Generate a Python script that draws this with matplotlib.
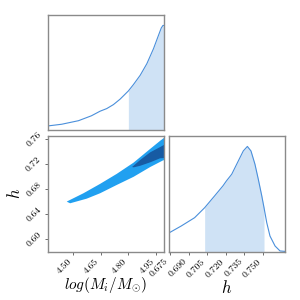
import numpy as np
import matplotlib
matplotlib.use('Agg')
import matplotlib.pyplot as plt

plt.rcParams['font.family'] = 'serif'
plt.rcParams['font.serif'] = ['cmr10']
plt.rcParams['mathtext.fontset'] = 'cm'
plt.rcParams['axes.formatter.use_mathtext'] = True

# 1D marginal of log(M_i/M_sun), peak normalised to 1
m_x = [4.365, 4.439, 4.530, 4.600, 4.647, 4.683, 4.719, 4.755, 4.800, 4.827, 4.864,
       4.900, 4.936, 4.963, 4.978, 4.987, 4.992]
m_p = [0.038, 0.054, 0.088, 0.135, 0.179, 0.204, 0.242, 0.294, 0.373, 0.433, 0.523,
       0.634, 0.778, 0.906, 0.976, 1.0, 1.0]
m_lo = 4.80

# 1D marginal of h
h_x = [0.6742, 0.6841, 0.6949, 0.7030, 0.7110, 0.7177, 0.7205, 0.7248, 0.7301, 0.7341,
       0.7374, 0.7403, 0.7435, 0.7462, 0.7490, 0.7508, 0.7530, 0.7556, 0.7597, 0.7637, 0.7677]
h_p = [0.178, 0.244, 0.323, 0.418, 0.530, 0.625, 0.672, 0.736, 0.862, 0.957,
       1.0, 0.957, 0.831, 0.688, 0.530, 0.418, 0.276, 0.149, 0.054, 0.007, 0.003]
h_lo, h_hi = 0.7030, 0.7508

# 2D contours (outer 95%, inner 68%)
outer_x = [4.467, 4.472, 4.557, 4.647, 4.737, 4.828, 4.918, 4.972, 4.990, 5.00,
           5.00, 4.990, 4.918, 4.828, 4.737, 4.647, 4.575, 4.485]
outer_y = [0.6600, 0.6610, 0.6735, 0.6885, 0.7045, 0.7225, 0.7445, 0.7575, 0.7615, 0.764,
           0.725, 0.7265, 0.7155, 0.6998, 0.6868, 0.6735, 0.6649, 0.6575]
inner_x = [4.820, 4.864, 4.918, 4.972, 5.00, 5.00, 4.972, 4.918, 4.864, 4.830]
inner_y = [0.7155, 0.7268, 0.7390, 0.7475, 0.7520, 0.7300, 0.7295, 0.7230, 0.7175, 0.7150]

line_c = '#4a8fdb'
fill_c = '#cfe2f5'
spine_c = '#8a8a8a'

fig = plt.figure(figsize=(3, 3), dpi=100)
ax1 = fig.add_axes([0.161, 0.567, 0.384, 0.383])
ax2 = fig.add_axes([0.161, 0.161, 0.384, 0.386])
ax3 = fig.add_axes([0.563, 0.161, 0.387, 0.386])

xlim_m = (4.367, 4.99)
ylim_h = (0.580, 0.7653)

# top: marginal of mass
mx, mp = np.array(m_x), np.array(m_p)
ax1.plot(mx, mp, color=line_c, lw=0.8)
ax1.fill_between(mx, 0, mp, where=mx >= m_lo, color=fill_c, lw=0)
ax1.set_xlim(xlim_m)
ax1.set_ylim(0, 1.1)
ax1.set_xticks([])
ax1.set_yticks([])

# 2D
ax2.fill(outer_x, outer_y, color='#21a0f0', lw=0)
ax2.fill(inner_x, inner_y, color='#175ba3', lw=0)
ax2.set_xlim(xlim_m)
ax2.set_ylim(ylim_h)
ax2.set_xticks([4.50, 4.65, 4.80, 4.95])
ax2.set_xticklabels(['4.50', '4.65', '4.80', '4.95'])
ax2.set_yticks([0.60, 0.64, 0.68, 0.72, 0.76])
ax2.set_yticklabels(['0.60', '0.64', '0.68', '0.72', '0.76'])
ax2.set_xlabel(r'$log(M_i/M_{\odot})$', fontsize=11, labelpad=0)
ax2.set_ylabel(r'$h$', fontsize=12, labelpad=1)

# right: marginal of h
hx, hp = np.array(h_x), np.array(h_p)
ax3.plot(hx, hp, color=line_c, lw=0.8)
ax3.fill_between(hx, 0, hp, where=(hx >= h_lo) & (hx <= h_hi), color=fill_c, lw=0)
ax3.set_xlim(0.6742, 0.7677)
ax3.set_ylim(0, 1.1)
ax3.set_yticks([])
ax3.set_xticks([0.675, 0.690, 0.705, 0.720, 0.735, 0.750])
ax3.set_xticklabels(['0.675', '0.690', '0.705', '0.720', '0.735', '0.750'])
ax3.set_xlabel(r'$h$', fontsize=12, labelpad=0)

for ax in (ax1, ax2, ax3):
    for s in ax.spines.values():
        s.set_color(spine_c)
        s.set_linewidth(1.0)
    ax.tick_params(colors='#555555', labelcolor='black', labelsize=7, length=2.5, width=0.6, pad=1.5)
    for lab in ax.get_xticklabels() + ax.get_yticklabels():
        lab.set_rotation(45)

for lab in ax2.get_xticklabels() + ax3.get_xticklabels():
    lab.set_ha('right')
    lab.set_va('top')
for lab in ax2.get_yticklabels():
    lab.set_ha('right')
    lab.set_va('center')

fig.savefig('out.png', dpi=100)
